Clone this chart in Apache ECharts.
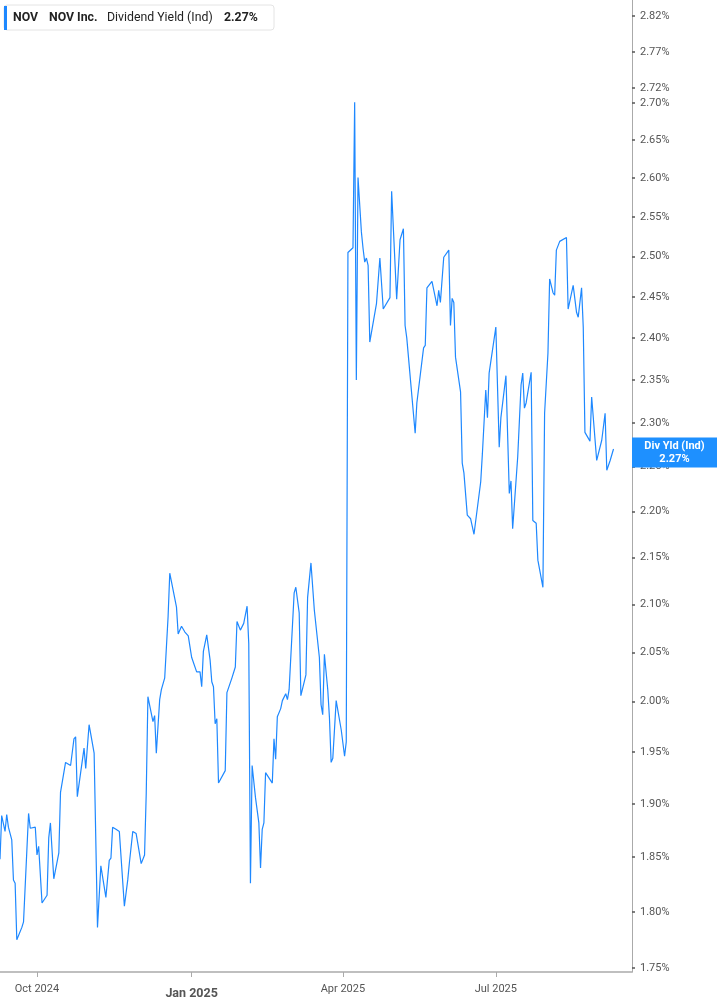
<!DOCTYPE html>
<html>
<head>
<meta charset="utf-8">
<script src="https://cdn.jsdelivr.net/npm/echarts@6/dist/echarts.min.js"></script>
<style>
html,body{margin:0;padding:0;background:#fff;}
#c{width:717px;height:1005px;}
</style>
</head>
<body>
<div id="c"></div>
<script>
const dates = [
'2024-09-09','2024-09-10','2024-09-11','2024-09-12','2024-09-13','2024-09-14','2024-09-16','2024-09-17','2024-09-18','2024-09-19',
'2024-09-20','2024-09-22','2024-09-23','2024-09-24','2024-09-26','2024-09-27','2024-09-30','2024-10-01','2024-10-02','2024-10-04',
'2024-10-07','2024-10-08','2024-10-09','2024-10-11','2024-10-14','2024-10-15','2024-10-16','2024-10-18','2024-10-21','2024-10-23',
'2024-10-24','2024-10-25','2024-10-29','2024-10-30','2024-10-31','2024-11-01','2024-11-04','2024-11-05','2024-11-06','2024-11-08',
'2024-11-11','2024-11-12','2024-11-13','2024-11-14','2024-11-15','2024-11-17','2024-11-19','2024-11-22','2024-11-24','2024-11-25',
'2024-11-27','2024-11-29','2024-12-02','2024-12-04','2024-12-05','2024-12-06','2024-12-09','2024-12-10','2024-12-11','2024-12-13',
'2024-12-14','2024-12-16','2024-12-18','2024-12-19','2024-12-20','2024-12-23','2024-12-24','2024-12-26','2024-12-28','2024-12-30',
'2025-01-01','2025-01-04','2025-01-06','2025-01-07','2025-01-08','2025-01-10','2025-01-12','2025-01-13','2025-01-14','2025-01-15',
'2025-01-16','2025-01-17','2025-01-21','2025-01-22','2025-01-25','2025-01-27','2025-01-28','2025-01-29','2025-01-30','2025-02-01',
'2025-02-03','2025-02-04','2025-02-05','2025-02-06','2025-02-08','2025-02-10','2025-02-11','2025-02-12','2025-02-13','2025-02-14',
'2025-02-16','2025-02-18','2025-02-19','2025-02-20','2025-02-21','2025-02-23','2025-02-24','2025-02-26','2025-02-27','2025-02-28',
'2025-03-03','2025-03-04','2025-03-06','2025-03-07','2025-03-10','2025-03-11','2025-03-13','2025-03-15','2025-03-18','2025-03-19',
'2025-03-20','2025-03-21','2025-03-23','2025-03-24','2025-03-25','2025-03-26','2025-03-28','2025-03-31','2025-04-02','2025-04-03',
'2025-04-04','2025-04-07','2025-04-08','2025-04-09','2025-04-10','2025-04-12','2025-04-13','2025-04-14','2025-04-15','2025-04-16',
'2025-04-17','2025-04-21','2025-04-23','2025-04-25','2025-04-26','2025-04-29','2025-04-30','2025-05-03','2025-05-05','2025-05-06',
'2025-05-07','2025-05-08','2025-05-09','2025-05-14','2025-05-15','2025-05-19','2025-05-20','2025-05-21','2025-05-24','2025-05-27',
'2025-05-28','2025-05-29','2025-05-31','2025-06-03','2025-06-04','2025-06-05','2025-06-06','2025-06-07','2025-06-10','2025-06-11',
'2025-06-12','2025-06-13','2025-06-14','2025-06-16','2025-06-18','2025-06-22','2025-06-23','2025-06-25','2025-06-26','2025-06-27',
'2025-07-01','2025-07-03','2025-07-04','2025-07-07','2025-07-09','2025-07-10','2025-07-11','2025-07-14','2025-07-16','2025-07-17',
'2025-07-18','2025-07-19','2025-07-22','2025-07-23','2025-07-25','2025-07-26','2025-07-29','2025-07-30','2025-08-01','2025-08-02',
'2025-08-04','2025-08-05','2025-08-06','2025-08-08','2025-08-12','2025-08-13','2025-08-14','2025-08-16','2025-08-18','2025-08-19',
'2025-08-21','2025-08-22','2025-08-23','2025-08-26','2025-08-27','2025-08-30','2025-09-02','2025-09-04','2025-09-05','2025-09-07',
'2025-09-09'
];
const divYield = [
1.848,1.889,1.888,1.874,1.890,1.878,1.866,1.829,1.826,1.775,
1.775,1.786,1.791,1.791,1.891,1.877,1.878,1.852,1.860,1.808,
1.815,1.868,1.882,1.830,1.854,1.911,1.912,1.940,1.937,1.963,
1.965,1.907,1.954,1.934,1.934,1.977,1.949,1.948,1.786,1.842,
1.813,1.813,1.847,1.849,1.878,1.876,1.874,1.805,1.829,1.845,
1.874,1.872,1.844,1.852,1.910,2.005,1.980,1.986,1.949,2.002,
2.012,2.024,2.087,2.133,2.131,2.097,2.069,2.077,2.071,2.067,
2.045,2.030,2.030,2.015,2.051,2.068,2.042,2.020,2.015,1.978,
1.983,1.920,1.932,2.009,2.024,2.035,2.082,2.081,2.073,2.080,
2.098,2.059,1.826,1.937,1.906,1.882,1.840,1.876,1.882,1.930,
1.925,1.920,1.963,1.943,1.985,1.993,2.001,2.008,2.002,2.012,
2.112,2.118,2.091,2.006,2.027,2.107,2.144,2.094,2.045,1.997,
1.987,2.048,2.012,1.984,1.940,1.944,2.001,1.972,1.946,1.960,
2.505,2.511,2.701,2.350,2.601,2.531,2.510,2.493,2.498,2.489,
2.395,2.442,2.498,2.435,2.435,2.449,2.583,2.447,2.521,2.522,
2.535,2.415,2.400,2.288,2.323,2.388,2.391,2.461,2.469,2.439,
2.458,2.443,2.499,2.508,2.415,2.448,2.443,2.377,2.336,2.254,
2.243,2.242,2.196,2.192,2.175,2.233,2.265,2.338,2.306,2.358,
2.413,2.272,2.306,2.355,2.220,2.234,2.181,2.261,2.344,2.358,
2.317,2.323,2.359,2.190,2.187,2.147,2.118,2.311,2.382,2.472,
2.455,2.452,2.508,2.519,2.524,2.435,2.436,2.464,2.431,2.425,
2.461,2.413,2.289,2.279,2.330,2.257,2.280,2.311,2.246,2.257,
2.27
];
const yTicks = [1.75,1.80,1.85,1.90,1.95,2.00,2.05,2.10,2.15,2.20,2.25,2.30,2.35,2.40,2.45,2.50,2.55,2.60,2.65,2.70,2.72,2.77,2.82];
const xTicks = ['2024-10-01','2025-01-01','2025-04-01','2025-07-01'];
const xRange = ['2024-09-09','2025-09-20'];
const yRange = [1.7465, 2.843];
const ticker = 'NOV';
const company = 'NOV Inc.';
const metric = 'Dividend Yield (Ind)';
const shortMetric = 'Div Yld (Ind)';

function ts(s){const p=s.split('-').map(Number);return new Date(p[0],p[1]-1,p[2]).getTime();}
const months=['Jan','Feb','Mar','Apr','May','Jun','Jul','Aug','Sep','Oct','Nov','Dec'];
const last = divYield[divYield.length-1];
const lastTxt = last.toFixed(2)+'%';

const chart = echarts.init(document.getElementById('c'), null, {renderer:'canvas'});
const FONT = 'Roboto, "Noto Sans", sans-serif';
chart.setOption({
  animation:false,
  backgroundColor:'#fff',
  grid:{left:0,right:85,top:0,bottom:33,containLabel:false},
  xAxis:{
    type:'value',
    min:ts(xRange[0]), max:ts(xRange[1]),
    axisLine:{show:true,lineStyle:{color:'#aaaaaa',width:1.5}},
    axisTick:{show:true,length:5,lineStyle:{color:'#aaaaaa'},customValues:xTicks.map(ts)},
    splitLine:{show:false},
    axisLabel:{
      customValues:xTicks.map(ts),
      margin:12,
      fontFamily:FONT,
      fontSize:11,
      color:'#555',
      formatter:function(v){
        const d=new Date(v);
        const t=months[d.getMonth()]+' '+d.getFullYear();
        return d.getMonth()===0?'{b|'+t+'}':t;
      },
      rich:{b:{fontWeight:'bold',fontSize:12.5,color:'#555',fontFamily:FONT,padding:[3,0,0,0]}}
    }
  },
  yAxis:{
    type:'value',
    position:'right',
    min:Math.log(yRange[0]), max:Math.log(yRange[1]),
    axisLine:{show:true,lineStyle:{color:'#aaaaaa',width:1}},
    axisTick:{show:true,length:3,inside:false,lineStyle:{color:'#555',width:1.5},customValues:yTicks.map(Math.log)},
    splitLine:{show:false},
    axisLabel:{
      customValues:yTicks.map(Math.log),
      margin:8,
      fontFamily:FONT,
      fontSize:11,
      color:'#555',
      formatter:function(v){return Math.exp(v).toFixed(2)+'%';}
    }
  },
  series:[{
    type:'line',
    data:dates.map((d,i)=>[ts(d),Math.log(divYield[i])]),
    showSymbol:false,
    symbol:'none',
    lineStyle:{color:'#1e88ff',width:1.2},
    z:3,
    markLine:{
      silent:true,
      symbol:['none','none'],
      lineStyle:{color:'rgba(0,0,0,0)',width:0,type:'solid'},
      emphasis:{disabled:true},
      data:[{yAxis:Math.log(last)}],
      label:{
        show:true,
        position:'end',
        distance:0,
        offset:[0,4],
        formatter:'{t|'+shortMetric+'}\n{t|'+lastTxt+'}',
        backgroundColor:'#1e90ff',
        color:'#fff',
        opacity:1,
        padding:[2,6,2,6],
        rich:{t:{width:73,align:'center',color:'#fff',fontWeight:'bold',fontSize:11,lineHeight:13,fontFamily:FONT}}
      }
    }
  }],
  graphic:[
    {type:'rect',shape:{x:4,y:5,width:270,height:25,r:3},style:{fill:'#fff',stroke:'#e4e4e4',lineWidth:1},z:10},
    {type:'rect',shape:{x:4,y:6,width:3,height:24},style:{fill:'#1e88ff'},z:11},
    {type:'text',x:13,y:17.5,style:{text:ticker,font:'bold 12.3px '+FONT,fill:'#222',textVerticalAlign:'middle'},z:11},
    {type:'text',x:49,y:17.5,style:{text:company,font:'bold 12.3px '+FONT,fill:'#222',textVerticalAlign:'middle'},z:11},
    {type:'text',x:107,y:17.5,style:{text:metric,font:'12.3px '+FONT,fill:'#222',textVerticalAlign:'middle'},z:11},
    {type:'text',x:224,y:17.5,style:{text:lastTxt,font:'bold 12.3px '+FONT,fill:'#222',textVerticalAlign:'middle'},z:11}
  ]
});
</script>
</body>
</html>
